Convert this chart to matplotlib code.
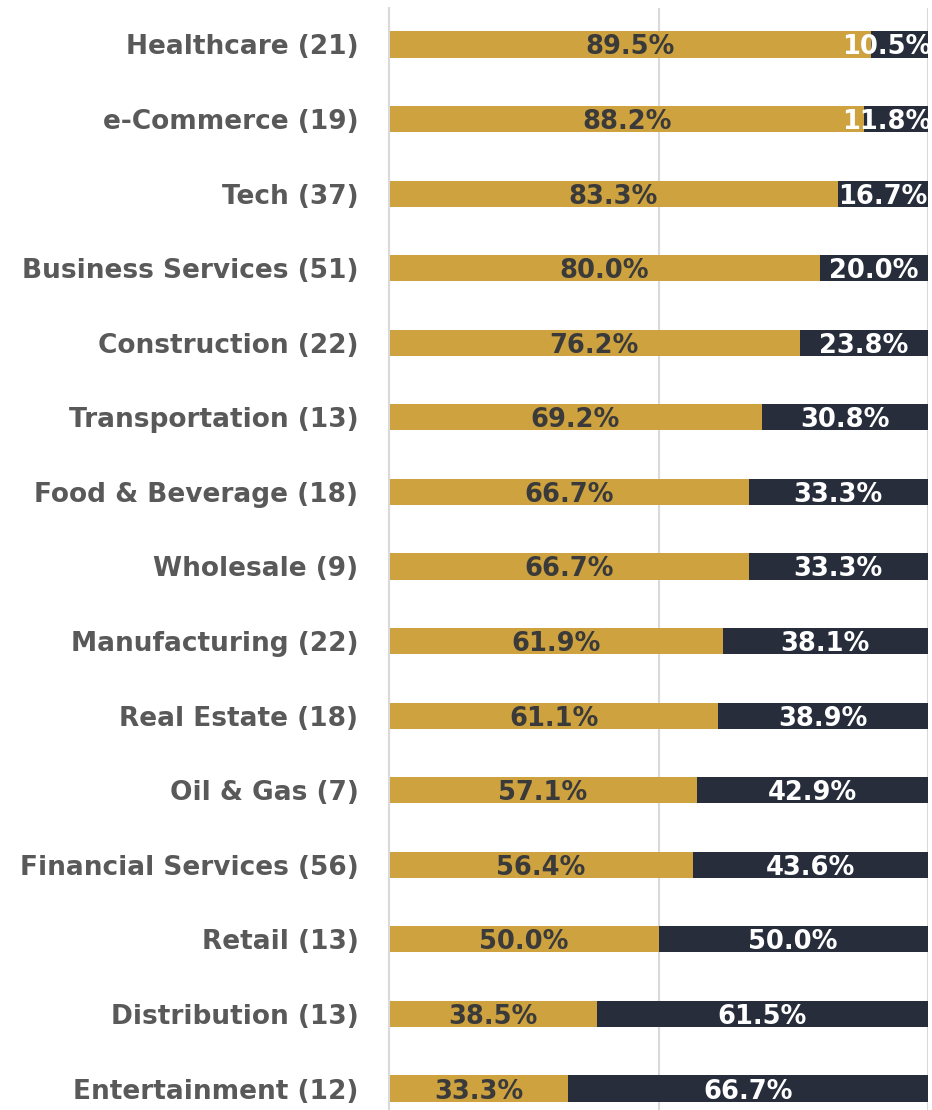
import matplotlib
matplotlib.use("Agg")
import matplotlib.pyplot as plt

# Share of firms per industry, split into two groups (percent)
industries = [
    "Healthcare (21)", "e-Commerce (19)", "Tech (37)", "Business Services (51)",
    "Construction (22)", "Transportation (13)", "Food & Beverage (18)",
    "Wholesale (9)", "Manufacturing (22)", "Real Estate (18)", "Oil & Gas (7)",
    "Financial Services (56)", "Retail (13)", "Distribution (13)",
    "Entertainment (12)",
]
share_yes = [89.5, 88.2, 83.3, 80.0, 76.2, 69.2, 66.7, 66.7, 61.9, 61.1,
             57.1, 56.4, 50.0, 38.5, 33.3]
share_no = [10.5, 11.8, 16.7, 20.0, 23.8, 30.8, 33.3, 33.3, 38.1, 38.9,
            42.9, 43.6, 50.0, 61.5, 66.7]

GOLD = "#CDA23F"
NAVY = "#272D3B"
LABEL_GREY = "#595959"

plt.rcParams["font.family"] = ["DejaVu Sans"]

fig = plt.figure(figsize=(9.32, 11.10), dpi=100)
ax = fig.add_axes([389 / 932, 0, 539 / 932, 1 - 8 / 1110])

ypos = list(range(len(industries)))
ax.barh(ypos, share_yes, height=0.35, color=GOLD, zorder=2)
ax.barh(ypos, share_no, left=share_yes, height=0.35, color=NAVY, zorder=2)

for y, a, b in zip(ypos, share_yes, share_no):
    ax.text(a / 2, y + 0.04, f"{a:.1f}%", ha="center", va="center",
            fontsize=18.5, fontweight="bold", color="#3A3A3A", zorder=3)
    # keep the narrow right-hand labels inside the figure edge
    xr = min(a + b / 2, 92.3)
    ax.text(xr, y + 0.04, f"{b:.1f}%", ha="center", va="center",
            fontsize=18.5, fontweight="bold", color="white", zorder=3)

ax.set_xlim(0, 100)
ax.set_ylim(14.288, -0.489)
ax.set_xticks([0, 50, 100])
ax.xaxis.grid(True, color="#D9D9D9", linewidth=1.5, zorder=0)
ax.tick_params(axis="x", length=0, labelbottom=False)

ax.set_yticks(ypos)
ax.set_yticklabels(industries, fontsize=19, fontweight="bold", color=LABEL_GREY)
ax.tick_params(axis="y", length=0, pad=22)

for side in ["top", "right", "bottom"]:
    ax.spines[side].set_visible(False)
ax.spines["left"].set_color("#D9D9D9")
ax.spines["left"].set_linewidth(1.5)

fig.savefig("out.png", dpi=100)
